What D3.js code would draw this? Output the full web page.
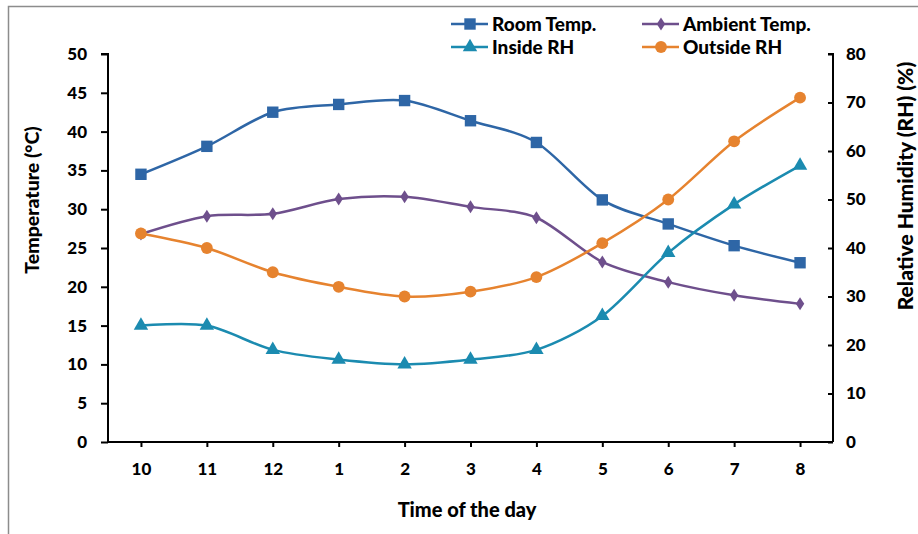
<!DOCTYPE html>
<html><head><meta charset="utf-8">
<script src="https://cdn.jsdelivr.net/npm/d3@7"></script>
<style>body{margin:0;background:#fff}svg{display:block}text{font-family:Lato,"Open Sans",sans-serif;font-weight:bold;fill:#000}</style>
</head><body><svg id="c" width="918" height="534"></svg>
<script>
const categories = ["10","11","12","1","2","3","4","5","6","7","8"];
const roomTemp = [34.5,38.1,42.5,43.5,44.0,41.4,38.6,31.2,28.1,25.3,23.1];
const ambientTemp = [26.8,29.1,29.4,31.3,31.6,30.3,28.9,23.2,20.6,18.9,17.8];
const insideRH = [24,24,19,17,16,17,19,26,39,49,57];
const outsideRH = [43,40,35,32,30,31,34,41,50,62,71];
const leftTicks = [0,5,10,15,20,25,30,35,40,45,50];
const rightTicks = [0,10,20,30,40,50,60,70,80];

const svg = d3.select("#c");
const L=108,R=833,T=54,B=442;
const x = d3.scalePoint().domain(categories).range([L,R]).padding(0.5);
const yL = d3.scaleLinear().domain([0,50]).range([B,T]);
const yR = d3.scaleLinear().domain([0,80]).range([B,T]);

// frame
svg.append("path").attr("d","M8.5,534 V6.5 H918").attr("fill","none").attr("stroke","#8c8c8c").attr("stroke-width",1.5);

// axes
const ax = svg.append("g").attr("transform",`translate(0,${B})`).call(d3.axisBottom(x).tickSize(5).tickPadding(16));
const ay = svg.append("g").attr("transform",`translate(${L},0)`).call(d3.axisLeft(yL).tickValues(leftTicks).tickSize(7).tickPadding(14));
const ayr = svg.append("g").attr("transform",`translate(${R},0)`).call(d3.axisRight(yR).tickValues(rightTicks).tickSize(-5).tickPadding(13));
[ax,ay,ayr].forEach(g=>{
  g.select(".domain").attr("stroke","#000").attr("stroke-width",2);
  g.selectAll(".tick line").attr("stroke","#000").attr("stroke-width",2);
  g.selectAll(".tick text").style("font-size","17px").style("font-family","Lato, sans-serif").style("font-weight","900");
});
ax.select(".domain").attr("d",`M${L},0H${R}`);
ay.select(".domain").attr("d",`M-7,${T}H0V${B}`);
ayr.select(".domain").attr("d",`M-5,${T}H0V${B}`);
ax.selectAll(".tick text").attr("dy","0.71em");

// titles
svg.append("text").attr("x",467).attr("y",517).attr("text-anchor","middle").style("font-size","20px").style("font-weight","900").text("Time of the day");
svg.append("text").attr("transform","translate(39,200) rotate(-90)").attr("text-anchor","middle").style("font-size","19.5px").style("font-weight","900").text("Temperature (°C)");
svg.append("text").attr("transform","translate(913,186) rotate(-90)").attr("text-anchor","middle").style("font-size","21px").style("font-weight","900").text("Relative Humidity (RH) (%)");

const series = [
  {name:"Room Temp.", data:roomTemp, y:yL, color:"#2E66A6", sym:d3.symbolSquare, size:130},
  {name:"Ambient Temp.", data:ambientTemp, y:yL, color:"#6E4F8C", sym:"diamond", size:0},
  {name:"Inside RH", data:insideRH, y:yR, color:"#1B8BB0", sym:d3.symbolTriangle, size:90},
  {name:"Outside RH", data:outsideRH, y:yR, color:"#E6832F", sym:d3.symbolCircle, size:110}
];
function marker(g,s){
  if(s.sym==="diamond"){
    g.append("path").attr("d","M0,-6.5L4.2,0L0,6.5L-4.2,0Z").attr("fill",s.color);
  } else {
    g.append("path").attr("d",d3.symbol().type(s.sym).size(s.size)()).attr("fill",s.color);
  }
}
const line = d3.line().curve(d3.curveCardinal.tension(0.1));
series.forEach(s=>{
  const pts = s.data.map((v,i)=>[x(categories[i]), s.y(v)]);
  svg.append("path").attr("d",line(pts)).attr("fill","none").attr("stroke",s.color).attr("stroke-width",2.5);
  pts.forEach(p=>{ const g=svg.append("g").attr("transform",`translate(${p[0]},${p[1]})`); marker(g,s); });
});

// legend
const leg = [[451,24],[642,24],[451,47],[642,47]];
series.forEach((s,i)=>{
  const [lx,ly]=leg[i];
  svg.append("line").attr("x1",lx).attr("x2",lx+37).attr("y1",ly).attr("y2",ly).attr("stroke",s.color).attr("stroke-width",2.5);
  const g=svg.append("g").attr("transform",`translate(${lx+19},${ly})`); marker(g,s);
  svg.append("text").attr("x",lx+41).attr("y",ly).attr("dy","0.36em").style("font-size","19px").style("font-weight","900").text(s.name);
});
</script></body></html>
